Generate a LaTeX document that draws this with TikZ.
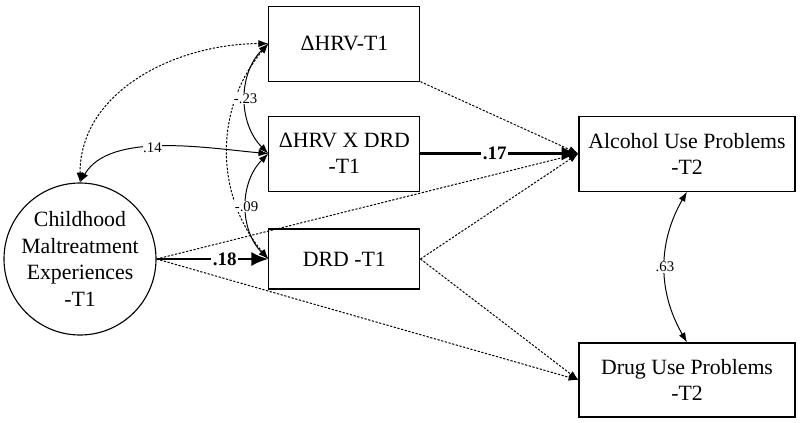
\documentclass[tikz,border=0pt]{standalone}
\usepackage{fontspec}
\setmainfont{Liberation Serif}
\usetikzlibrary{arrows.meta}

\begin{document}
\begin{tikzpicture}[
		>={Latex[length=7pt,width=5pt]},
		var/.style={draw, line width=0.8pt, align=center, font=\rmfamily\fontsize{15.5}{18.5}\selectfont, minimum width=3.775cm, minimum height=1.875cm},
		outcome/.style={var, minimum width=5.4cm},
		latent/.style={draw, circle, line width=0.8pt, align=center, font=\rmfamily\fontsize{15.5}{19}\selectfont, minimum size=3.8cm, inner sep=0pt},
		dots/.style={dash pattern=on 1.6pt off 1.1pt, line width=0.7pt},
		strong/.style={line width=2pt, >={Latex[length=12pt,width=10pt]}},
		coef/.style={font=\rmfamily\fontsize{10.5}{11}\selectfont, fill=white, inner sep=0.5pt},
		bcoef/.style={font=\rmfamily\fontsize{13.5}{14}\selectfont\bfseries, fill=white, inner sep=1pt}
	]
		\useasboundingbox (0, 0) rectangle (20, 10.55);

		% Predictors at T1
		\node[latent] (cme) at (2.0, 4.075) {Childhood\\Maltreatment\\Experiences\\-T1};
		\node[var] (hrv) at (8.61, 9.46) {ΔHRV-T1};
		\node[var] (hrvdrd) at (8.61, 6.71) {ΔHRV X DRD\\-T1};
		\node[var, minimum height=1.5cm] (drd) at (8.61, 4.075) {DRD -T1};

		% Outcomes at T2
		\node[outcome] (alc) at (17.175, 6.71) {Alcohol Use Problems\\-T2};
		\node[outcome, minimum height=1.85cm] (drug) at (17.175, 1.05) {Drug Use Problems\\-T2};

		% Covariances
		\draw[<->, dots] (cme.north) to[out=90, in=180] (hrv.west);
		\draw[<->, dots] (hrv.west) to[bend right=40] (drd.west);
		\draw[<->, line width=0.7pt] (cme.north) to[out=60, in=175, looseness=0.8] node[coef, pos=0.45] {.14} (hrvdrd.west);
		\draw[<->, line width=0.7pt] (hrv.west) to[bend right=45] node[coef] {-.23} (hrvdrd.west);
		\draw[<->, line width=0.7pt] (hrvdrd.west) to[bend right=45] node[coef] {-.09} (drd.west);
		\draw[<->, line width=0.7pt] (alc.south) to[bend right=30] node[coef] {.63} (drug.north);

		% Paths
		\draw[->, dots] (cme.east) -- (alc.west);
		\draw[->, dots] (cme.east) -- (drug.west);
		\draw[->, dots] (hrv.south east) -- (alc.west);
		\draw[->, dots] (drd.east) -- (alc.west);
		\draw[->, dots] (drd.east) -- (drug.west);
		\draw[->, strong] (cme.east) -- node[bcoef, pos=0.61] {.18} (drd.west);
		\draw[->, strong] (hrvdrd.east) -- node[bcoef, pos=0.47] {.17} (alc.west);
	\end{tikzpicture}
\end{document}
